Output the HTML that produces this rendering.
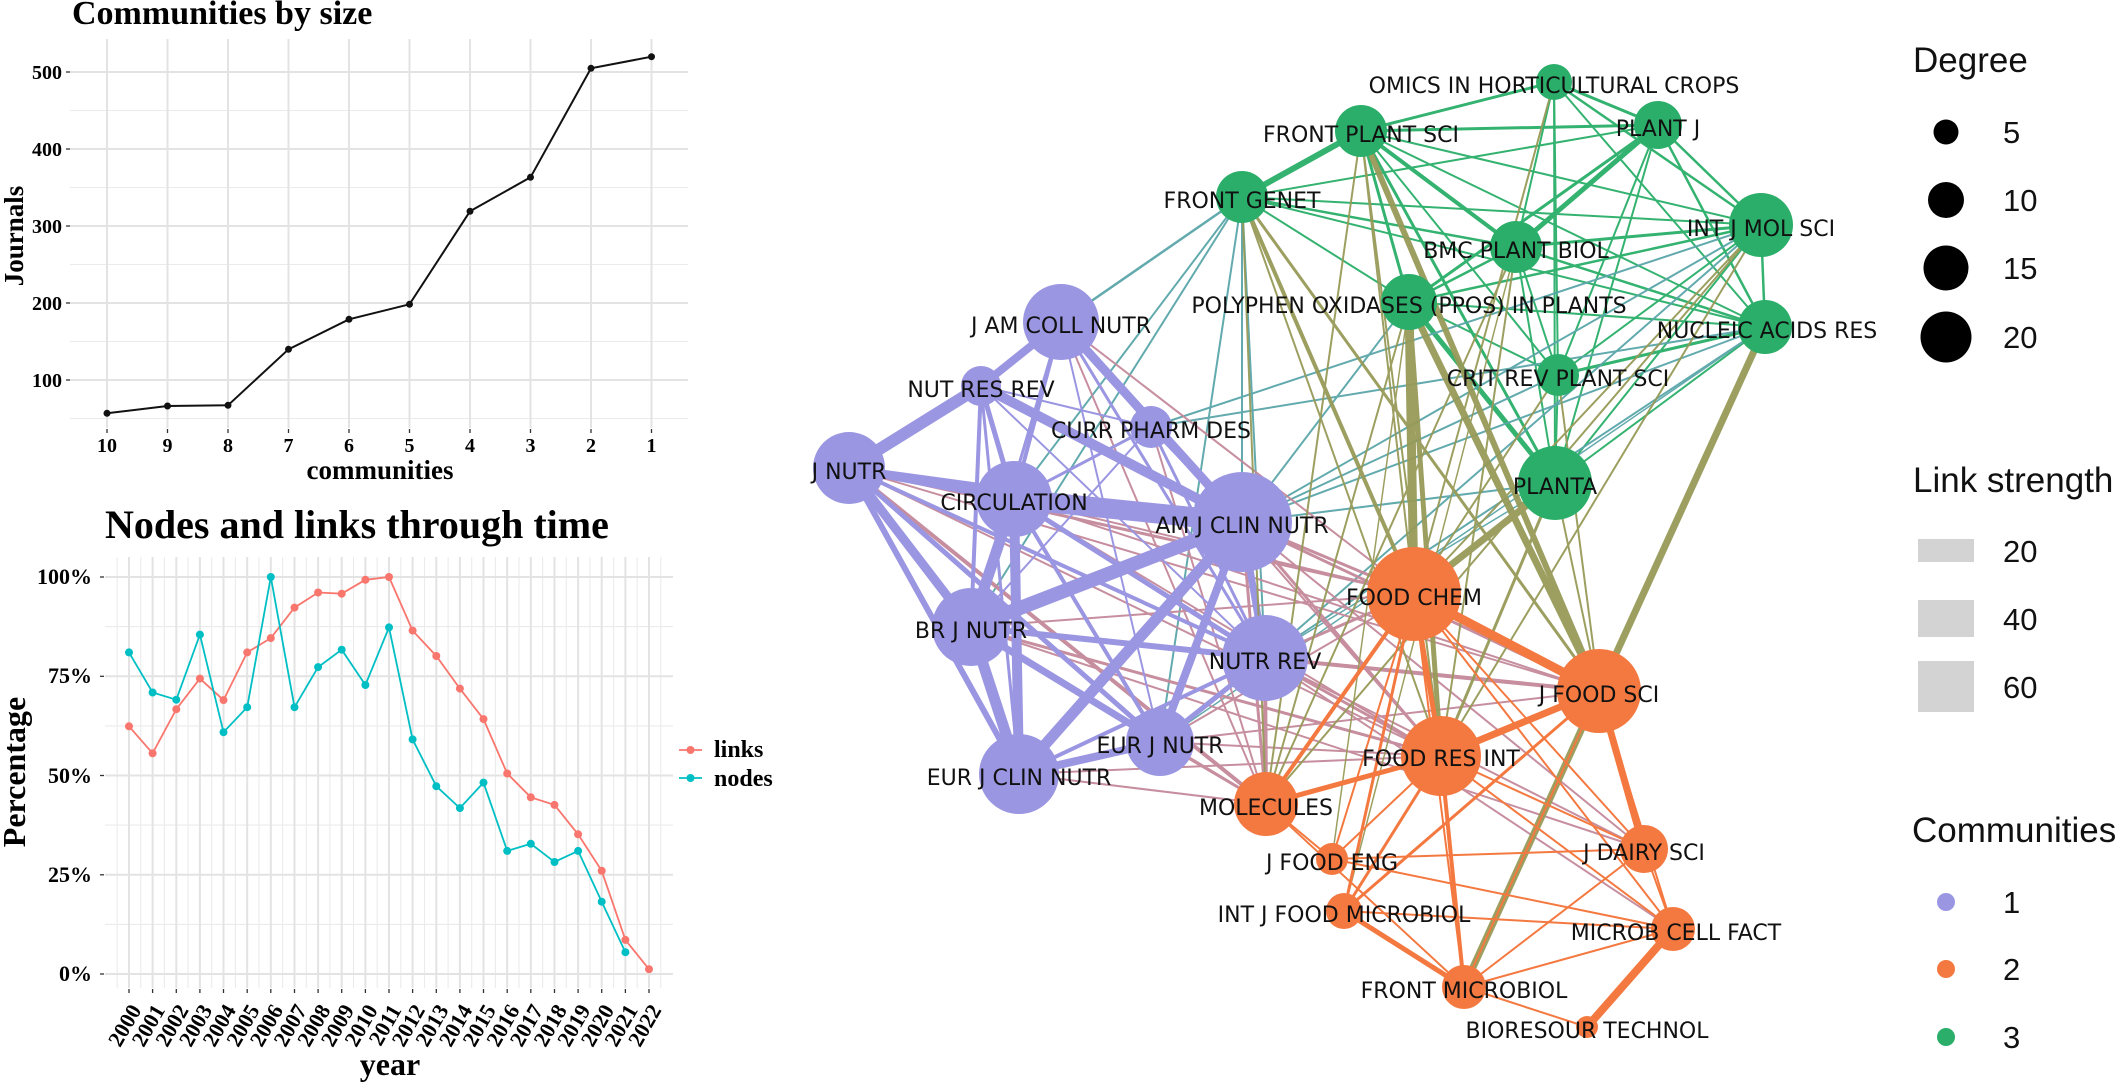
<!DOCTYPE html>
<html>
<head>
<meta charset="utf-8">
<style>
html,body{margin:0;padding:0;background:#fff;}
svg{display:block;}
.ser{font-family:"Liberation Serif","DejaVu Serif",serif;font-weight:bold;fill:#000;}
.lab{font-family:"DejaVu Sans","Liberation Sans",sans-serif;font-size:22px;fill:#111;text-anchor:middle;}
.leg{font-family:"Liberation Sans","DejaVu Sans",sans-serif;fill:#111;}
</style>
</head>
<body>
<svg width="2123" height="1084" viewBox="0 0 2123 1084" xmlns="http://www.w3.org/2000/svg">
<rect width="2123" height="1084" fill="#fff"/>

<!-- ================= Panel 1 ================= -->
<g stroke="#ebebeb" stroke-width="1.1">
  <line x1="70" y1="418.5" x2="688" y2="418.5"/>
  <line x1="70" y1="341.5" x2="688" y2="341.5"/>
  <line x1="70" y1="264.5" x2="688" y2="264.5"/>
  <line x1="70" y1="187.5" x2="688" y2="187.5"/>
  <line x1="70" y1="110.5" x2="688" y2="110.5"/>
</g>
<g stroke="#e3e3e3" stroke-width="2">
  <line x1="70" y1="380" x2="688" y2="380"/>
  <line x1="70" y1="303" x2="688" y2="303"/>
  <line x1="70" y1="226" x2="688" y2="226"/>
  <line x1="70" y1="149" x2="688" y2="149"/>
  <line x1="70" y1="72" x2="688" y2="72"/>
  <line x1="107" y1="39" x2="107" y2="428"/>
  <line x1="167.5" y1="39" x2="167.5" y2="428"/>
  <line x1="228" y1="39" x2="228" y2="428"/>
  <line x1="288.5" y1="39" x2="288.5" y2="428"/>
  <line x1="349" y1="39" x2="349" y2="428"/>
  <line x1="409.5" y1="39" x2="409.5" y2="428"/>
  <line x1="470" y1="39" x2="470" y2="428"/>
  <line x1="530.5" y1="39" x2="530.5" y2="428"/>
  <line x1="591" y1="39" x2="591" y2="428"/>
  <line x1="651.5" y1="39" x2="651.5" y2="428"/>
</g>
<g stroke="#333" stroke-width="1.3">
  <line x1="66" y1="380" x2="70" y2="380"/>
  <line x1="66" y1="303" x2="70" y2="303"/>
  <line x1="66" y1="226" x2="70" y2="226"/>
  <line x1="66" y1="149" x2="70" y2="149"/>
  <line x1="66" y1="72" x2="70" y2="72"/>
  <line x1="107" y1="429" x2="107" y2="433"/>
  <line x1="167.5" y1="429" x2="167.5" y2="433"/>
  <line x1="228" y1="429" x2="228" y2="433"/>
  <line x1="288.5" y1="429" x2="288.5" y2="433"/>
  <line x1="349" y1="429" x2="349" y2="433"/>
  <line x1="409.5" y1="429" x2="409.5" y2="433"/>
  <line x1="470" y1="429" x2="470" y2="433"/>
  <line x1="530.5" y1="429" x2="530.5" y2="433"/>
  <line x1="591" y1="429" x2="591" y2="433"/>
  <line x1="651.5" y1="429" x2="651.5" y2="433"/>
</g>
<polyline fill="none" stroke="#111" stroke-width="2" points="107,413.3 167.5,406 228,405.3 288.5,349.3 349,319.3 409.5,304.3 470,211.3 530.5,177.3 591,68.3 651.5,56.7"/>
<g fill="#111">
  <circle cx="107" cy="413.3" r="3.5"/><circle cx="167.5" cy="406" r="3.5"/><circle cx="228" cy="405.3" r="3.5"/>
  <circle cx="288.5" cy="349.3" r="3.5"/><circle cx="349" cy="319.3" r="3.5"/><circle cx="409.5" cy="304.3" r="3.5"/>
  <circle cx="470" cy="211.3" r="3.5"/><circle cx="530.5" cy="177.3" r="3.5"/><circle cx="591" cy="68.3" r="3.5"/>
  <circle cx="651.5" cy="56.7" r="3.5"/>
</g>
<text class="ser" x="72" y="24" font-size="34">Communities by size</text>
<g class="ser" font-size="20" text-anchor="end">
  <text x="62" y="387">100</text><text x="62" y="310">200</text><text x="62" y="233">300</text>
  <text x="62" y="156">400</text><text x="62" y="79">500</text>
</g>
<g class="ser" font-size="20" text-anchor="middle">
  <text x="107" y="452">10</text><text x="167.5" y="452">9</text><text x="228" y="452">8</text>
  <text x="288.5" y="452">7</text><text x="349" y="452">6</text><text x="409.5" y="452">5</text>
  <text x="470" y="452">4</text><text x="530.5" y="452">3</text><text x="591" y="452">2</text>
  <text x="651.5" y="452">1</text>
</g>
<text class="ser" x="380" y="479" font-size="27" text-anchor="middle">communities</text>
<text class="ser" font-size="27" text-anchor="middle" transform="translate(23,236) rotate(-90)">Journals</text>

<!-- ================= Panel 2 ================= -->
<g stroke="#ebebeb" stroke-width="1.1">
  <line x1="105" y1="924.4" x2="673" y2="924.4"/>
  <line x1="105" y1="825.1" x2="673" y2="825.1"/>
  <line x1="105" y1="725.9" x2="673" y2="725.9"/>
  <line x1="105" y1="626.6" x2="673" y2="626.6"/>
  <line x1="117.2" y1="557" x2="117.2" y2="988"/><line x1="140.8" y1="557" x2="140.8" y2="988"/>
  <line x1="164.4" y1="557" x2="164.4" y2="988"/><line x1="188.1" y1="557" x2="188.1" y2="988"/>
  <line x1="211.7" y1="557" x2="211.7" y2="988"/><line x1="235.4" y1="557" x2="235.4" y2="988"/>
  <line x1="259" y1="557" x2="259" y2="988"/><line x1="282.6" y1="557" x2="282.6" y2="988"/>
  <line x1="306.3" y1="557" x2="306.3" y2="988"/><line x1="329.9" y1="557" x2="329.9" y2="988"/>
  <line x1="353.5" y1="557" x2="353.5" y2="988"/><line x1="377.2" y1="557" x2="377.2" y2="988"/>
  <line x1="400.8" y1="557" x2="400.8" y2="988"/><line x1="424.5" y1="557" x2="424.5" y2="988"/>
  <line x1="448.1" y1="557" x2="448.1" y2="988"/><line x1="471.7" y1="557" x2="471.7" y2="988"/>
  <line x1="495.4" y1="557" x2="495.4" y2="988"/><line x1="519" y1="557" x2="519" y2="988"/>
  <line x1="542.6" y1="557" x2="542.6" y2="988"/><line x1="566.3" y1="557" x2="566.3" y2="988"/>
  <line x1="589.9" y1="557" x2="589.9" y2="988"/><line x1="613.6" y1="557" x2="613.6" y2="988"/>
  <line x1="637.2" y1="557" x2="637.2" y2="988"/><line x1="660.8" y1="557" x2="660.8" y2="988"/>
</g>
<g stroke="#e3e3e3" stroke-width="2">
  <line x1="105" y1="974" x2="673" y2="974"/>
  <line x1="105" y1="874.8" x2="673" y2="874.8"/>
  <line x1="105" y1="775.5" x2="673" y2="775.5"/>
  <line x1="105" y1="676.3" x2="673" y2="676.3"/>
  <line x1="105" y1="577" x2="673" y2="577"/>
  <line x1="129" y1="557" x2="129" y2="988"/><line x1="152.6" y1="557" x2="152.6" y2="988"/>
  <line x1="176.3" y1="557" x2="176.3" y2="988"/><line x1="199.9" y1="557" x2="199.9" y2="988"/>
  <line x1="223.5" y1="557" x2="223.5" y2="988"/><line x1="247.2" y1="557" x2="247.2" y2="988"/>
  <line x1="270.8" y1="557" x2="270.8" y2="988"/><line x1="294.5" y1="557" x2="294.5" y2="988"/>
  <line x1="318.1" y1="557" x2="318.1" y2="988"/><line x1="341.7" y1="557" x2="341.7" y2="988"/>
  <line x1="365.4" y1="557" x2="365.4" y2="988"/><line x1="389" y1="557" x2="389" y2="988"/>
  <line x1="412.6" y1="557" x2="412.6" y2="988"/><line x1="436.3" y1="557" x2="436.3" y2="988"/>
  <line x1="459.9" y1="557" x2="459.9" y2="988"/><line x1="483.5" y1="557" x2="483.5" y2="988"/>
  <line x1="507.2" y1="557" x2="507.2" y2="988"/><line x1="530.8" y1="557" x2="530.8" y2="988"/>
  <line x1="554.5" y1="557" x2="554.5" y2="988"/><line x1="578.1" y1="557" x2="578.1" y2="988"/>
  <line x1="601.7" y1="557" x2="601.7" y2="988"/><line x1="625.4" y1="557" x2="625.4" y2="988"/>
  <line x1="649" y1="557" x2="649" y2="988"/>
</g>
<g stroke="#333" stroke-width="1.3">
  <line x1="100" y1="974" x2="104" y2="974"/><line x1="100" y1="874.8" x2="104" y2="874.8"/>
  <line x1="100" y1="775.5" x2="104" y2="775.5"/><line x1="100" y1="676.3" x2="104" y2="676.3"/>
  <line x1="100" y1="577" x2="104" y2="577"/>
  <line x1="129" y1="989" x2="129" y2="993"/><line x1="152.6" y1="989" x2="152.6" y2="993"/>
  <line x1="176.3" y1="989" x2="176.3" y2="993"/><line x1="199.9" y1="989" x2="199.9" y2="993"/>
  <line x1="223.5" y1="989" x2="223.5" y2="993"/><line x1="247.2" y1="989" x2="247.2" y2="993"/>
  <line x1="270.8" y1="989" x2="270.8" y2="993"/><line x1="294.5" y1="989" x2="294.5" y2="993"/>
  <line x1="318.1" y1="989" x2="318.1" y2="993"/><line x1="341.7" y1="989" x2="341.7" y2="993"/>
  <line x1="365.4" y1="989" x2="365.4" y2="993"/><line x1="389" y1="989" x2="389" y2="993"/>
  <line x1="412.6" y1="989" x2="412.6" y2="993"/><line x1="436.3" y1="989" x2="436.3" y2="993"/>
  <line x1="459.9" y1="989" x2="459.9" y2="993"/><line x1="483.5" y1="989" x2="483.5" y2="993"/>
  <line x1="507.2" y1="989" x2="507.2" y2="993"/><line x1="530.8" y1="989" x2="530.8" y2="993"/>
  <line x1="554.5" y1="989" x2="554.5" y2="993"/><line x1="578.1" y1="989" x2="578.1" y2="993"/>
  <line x1="601.7" y1="989" x2="601.7" y2="993"/><line x1="625.4" y1="989" x2="625.4" y2="993"/>
  <line x1="649" y1="989" x2="649" y2="993"/>
</g>
<!-- links -->
<polyline fill="none" stroke="#F8766D" stroke-width="1.8" points="129,726.3 152.6,753.3 176.3,709.2 199.9,678.6 223.5,700.1 247.2,652.4 270.8,638.1 294.5,607.6 318.1,592.5 341.7,593.7 365.4,579.8 389,577 412.6,630.6 436.3,656 459.9,688.6 483.5,719.1 507.2,773.5 530.8,797.3 554.5,804.9 578.1,834.3 601.7,870.8 625.4,939.9 649,969.2"/>
<g fill="#F8766D">
  <circle cx="129" cy="726.3" r="4"/><circle cx="152.6" cy="753.3" r="4"/><circle cx="176.3" cy="709.2" r="4"/>
  <circle cx="199.9" cy="678.6" r="4"/><circle cx="223.5" cy="700.1" r="4"/><circle cx="247.2" cy="652.4" r="4"/>
  <circle cx="270.8" cy="638.1" r="4"/><circle cx="294.5" cy="607.6" r="4"/><circle cx="318.1" cy="592.5" r="4"/>
  <circle cx="341.7" cy="593.7" r="4"/><circle cx="365.4" cy="579.8" r="4"/><circle cx="389" cy="577" r="4"/>
  <circle cx="412.6" cy="630.6" r="4"/><circle cx="436.3" cy="656" r="4"/><circle cx="459.9" cy="688.6" r="4"/>
  <circle cx="483.5" cy="719.1" r="4"/><circle cx="507.2" cy="773.5" r="4"/><circle cx="530.8" cy="797.3" r="4"/>
  <circle cx="554.5" cy="804.9" r="4"/><circle cx="578.1" cy="834.3" r="4"/><circle cx="601.7" cy="870.8" r="4"/>
  <circle cx="625.4" cy="939.9" r="4"/><circle cx="649" cy="969.2" r="4"/>
</g>
<!-- nodes -->
<polyline fill="none" stroke="#00BFC4" stroke-width="1.8" points="129,652.4 152.6,692.5 176.3,699.7 199.9,634.6 223.5,732.2 247.2,707.2 270.8,577 294.5,707.2 318.1,667.1 341.7,649.7 365.4,685 389,627.4 412.6,739.4 436.3,786.2 459.9,808.1 483.5,782.6 507.2,850.9 530.8,843.8 554.5,862 578.1,850.9 601.7,901.7 625.4,952.2"/>
<g fill="#00BFC4">
  <circle cx="129" cy="652.4" r="4"/><circle cx="152.6" cy="692.5" r="4"/><circle cx="176.3" cy="699.7" r="4"/>
  <circle cx="199.9" cy="634.6" r="4"/><circle cx="223.5" cy="732.2" r="4"/><circle cx="247.2" cy="707.2" r="4"/>
  <circle cx="270.8" cy="577" r="4"/><circle cx="294.5" cy="707.2" r="4"/><circle cx="318.1" cy="667.1" r="4"/>
  <circle cx="341.7" cy="649.7" r="4"/><circle cx="365.4" cy="685" r="4"/><circle cx="389" cy="627.4" r="4"/>
  <circle cx="412.6" cy="739.4" r="4"/><circle cx="436.3" cy="786.2" r="4"/><circle cx="459.9" cy="808.1" r="4"/>
  <circle cx="483.5" cy="782.6" r="4"/><circle cx="507.2" cy="850.9" r="4"/><circle cx="530.8" cy="843.8" r="4"/>
  <circle cx="554.5" cy="862" r="4"/><circle cx="578.1" cy="850.9" r="4"/><circle cx="601.7" cy="901.7" r="4"/>
  <circle cx="625.4" cy="952.2" r="4"/>
</g>
<text class="ser" x="105" y="538" font-size="40">Nodes and links through time</text>
<g class="ser" font-size="22" text-anchor="end">
  <text x="92" y="584">100%</text><text x="92" y="683">75%</text><text x="92" y="783">50%</text>
  <text x="92" y="882">25%</text><text x="92" y="981">0%</text>
</g>
<g class="ser" font-size="22" text-anchor="end">
  <text transform="translate(142,1010) rotate(-60)">2000</text>
  <text transform="translate(165.6,1010) rotate(-60)">2001</text>
  <text transform="translate(189.3,1010) rotate(-60)">2002</text>
  <text transform="translate(212.9,1010) rotate(-60)">2003</text>
  <text transform="translate(236.5,1010) rotate(-60)">2004</text>
  <text transform="translate(260.2,1010) rotate(-60)">2005</text>
  <text transform="translate(283.8,1010) rotate(-60)">2006</text>
  <text transform="translate(307.5,1010) rotate(-60)">2007</text>
  <text transform="translate(331.1,1010) rotate(-60)">2008</text>
  <text transform="translate(354.7,1010) rotate(-60)">2009</text>
  <text transform="translate(378.4,1010) rotate(-60)">2010</text>
  <text transform="translate(402,1010) rotate(-60)">2011</text>
  <text transform="translate(425.6,1010) rotate(-60)">2012</text>
  <text transform="translate(449.3,1010) rotate(-60)">2013</text>
  <text transform="translate(472.9,1010) rotate(-60)">2014</text>
  <text transform="translate(496.5,1010) rotate(-60)">2015</text>
  <text transform="translate(520.2,1010) rotate(-60)">2016</text>
  <text transform="translate(543.8,1010) rotate(-60)">2017</text>
  <text transform="translate(567.5,1010) rotate(-60)">2018</text>
  <text transform="translate(591.1,1010) rotate(-60)">2019</text>
  <text transform="translate(614.7,1010) rotate(-60)">2020</text>
  <text transform="translate(638.4,1010) rotate(-60)">2021</text>
  <text transform="translate(662,1010) rotate(-60)">2022</text>
</g>
<text class="ser" x="390" y="1075" font-size="32" text-anchor="middle">year</text>
<text class="ser" font-size="32" text-anchor="middle" transform="translate(25,772) rotate(-90)">Percentage</text>
<!-- legend panel 2 -->
<line x1="679" y1="750" x2="702" y2="750" stroke="#F8766D" stroke-width="1.8"/>
<circle cx="690.5" cy="750" r="4" fill="#F8766D"/>
<line x1="679" y1="778" x2="702" y2="778" stroke="#00BFC4" stroke-width="1.8"/>
<circle cx="690.5" cy="778" r="4" fill="#00BFC4"/>
<text class="ser" x="714" y="757" font-size="24">links</text>
<text class="ser" x="714" y="786" font-size="24">nodes</text>

<!-- ================= Network ================= -->
<g fill="none" stroke-linecap="round">
<!-- green-green -->
<g stroke="#2aae69" opacity="0.95">
  <line x1="1361" y1="131" x2="1242" y2="197" stroke-width="6"/>
  <line x1="1361" y1="131" x2="1658" y2="125" stroke-width="3"/>
  <line x1="1242" y1="197" x2="1658" y2="125" stroke-width="2"/>
  <line x1="1361" y1="131" x2="1554" y2="82" stroke-width="3"/>
  <line x1="1361" y1="131" x2="1516" y2="247" stroke-width="4"/>
  <line x1="1361" y1="131" x2="1761" y2="225" stroke-width="2"/>
  <line x1="1361" y1="131" x2="1409" y2="302" stroke-width="3"/>
  <line x1="1361" y1="131" x2="1555" y2="483" stroke-width="3"/>
  <line x1="1361" y1="131" x2="1765" y2="327" stroke-width="2"/>
  <line x1="1361" y1="131" x2="1558" y2="375" stroke-width="2"/>
  <line x1="1242" y1="197" x2="1516" y2="247" stroke-width="2.5"/>
  <line x1="1242" y1="197" x2="1409" y2="302" stroke-width="2"/>
  <line x1="1242" y1="197" x2="1761" y2="225" stroke-width="2"/>
  <line x1="1242" y1="197" x2="1765" y2="327" stroke-width="2"/>
  <line x1="1554" y1="82" x2="1658" y2="125" stroke-width="3"/>
  <line x1="1554" y1="82" x2="1761" y2="225" stroke-width="2.5"/>
  <line x1="1554" y1="82" x2="1765" y2="327" stroke-width="2"/>
  <line x1="1554" y1="82" x2="1558" y2="375" stroke-width="2"/>
  <line x1="1554" y1="82" x2="1555" y2="483" stroke-width="2"/>
  <line x1="1554" y1="82" x2="1516" y2="247" stroke-width="2"/>
  <line x1="1658" y1="125" x2="1516" y2="247" stroke-width="5"/>
  <line x1="1658" y1="125" x2="1409" y2="302" stroke-width="3"/>
  <line x1="1658" y1="125" x2="1761" y2="225" stroke-width="2.5"/>
  <line x1="1658" y1="125" x2="1765" y2="327" stroke-width="2.5"/>
  <line x1="1658" y1="125" x2="1555" y2="483" stroke-width="2"/>
  <line x1="1658" y1="125" x2="1558" y2="375" stroke-width="2"/>
  <line x1="1516" y1="247" x2="1761" y2="225" stroke-width="3"/>
  <line x1="1516" y1="247" x2="1765" y2="327" stroke-width="2.5"/>
  <line x1="1516" y1="247" x2="1409" y2="302" stroke-width="2.5"/>
  <line x1="1516" y1="247" x2="1555" y2="483" stroke-width="2"/>
  <line x1="1516" y1="247" x2="1558" y2="375" stroke-width="2"/>
  <line x1="1409" y1="302" x2="1761" y2="225" stroke-width="2.5"/>
  <line x1="1409" y1="302" x2="1765" y2="327" stroke-width="2"/>
  <line x1="1409" y1="302" x2="1555" y2="483" stroke-width="5"/>
  <line x1="1409" y1="302" x2="1558" y2="375" stroke-width="2"/>
  <line x1="1761" y1="225" x2="1765" y2="327" stroke-width="2.5"/>
  <line x1="1761" y1="225" x2="1555" y2="483" stroke-width="2"/>
  <line x1="1761" y1="225" x2="1558" y2="375" stroke-width="2"/>
  <line x1="1765" y1="327" x2="1558" y2="375" stroke-width="3"/>
  <line x1="1765" y1="327" x2="1555" y2="483" stroke-width="2"/>
  <line x1="1558" y1="375" x2="1555" y2="483" stroke-width="2"/>
</g>
<!-- purple-green teal -->
<g stroke="#5aa6a9" opacity="0.95">
  <line x1="1061" y1="322" x2="1242" y2="197" stroke-width="2.5"/>
  <line x1="1242" y1="197" x2="1014" y2="499" stroke-width="2"/>
  <line x1="1242" y1="197" x2="971" y2="627" stroke-width="2"/>
  <line x1="1242" y1="197" x2="1242" y2="522" stroke-width="2"/>
  <line x1="1242" y1="197" x2="1265" y2="658" stroke-width="2"/>
  <line x1="1242" y1="197" x2="1160" y2="742" stroke-width="2"/>
  <line x1="1151" y1="427" x2="1765" y2="327" stroke-width="2"/>
  <line x1="1151" y1="427" x2="1761" y2="225" stroke-width="2"/>
  <line x1="1242" y1="522" x2="1761" y2="225" stroke-width="2"/>
  <line x1="1242" y1="522" x2="1765" y2="327" stroke-width="2"/>
  <line x1="1242" y1="522" x2="1558" y2="375" stroke-width="2"/>
  <line x1="1242" y1="522" x2="1409" y2="302" stroke-width="2"/>
  <line x1="1242" y1="522" x2="1555" y2="483" stroke-width="2"/>
  <line x1="1265" y1="658" x2="1761" y2="225" stroke-width="2"/>
  <line x1="1265" y1="658" x2="1765" y2="327" stroke-width="2"/>
  <line x1="1265" y1="658" x2="1555" y2="483" stroke-width="1.5"/>
  <line x1="1160" y1="742" x2="1765" y2="327" stroke-width="1.5"/>
</g>
<!-- purple-orange pink -->
<g stroke="#c4899a" opacity="0.95">
  <line x1="849" y1="468" x2="1414" y2="594" stroke-width="3"/>
  <line x1="849" y1="468" x2="1266" y2="804" stroke-width="4"/>
  <line x1="849" y1="468" x2="1441" y2="756" stroke-width="2"/>
  <line x1="849" y1="468" x2="1599" y2="691" stroke-width="2"/>
  <line x1="1061" y1="322" x2="1414" y2="594" stroke-width="2"/>
  <line x1="1061" y1="322" x2="1441" y2="756" stroke-width="2"/>
  <line x1="1061" y1="322" x2="1266" y2="804" stroke-width="2"/>
  <line x1="1151" y1="427" x2="1266" y2="804" stroke-width="2"/>
  <line x1="1242" y1="522" x2="1414" y2="594" stroke-width="3"/>
  <line x1="1242" y1="522" x2="1599" y2="691" stroke-width="3"/>
  <line x1="1242" y1="522" x2="1441" y2="756" stroke-width="3"/>
  <line x1="1242" y1="522" x2="1266" y2="804" stroke-width="3"/>
  <line x1="1242" y1="522" x2="1644" y2="849" stroke-width="2"/>
  <line x1="1265" y1="658" x2="1414" y2="594" stroke-width="3"/>
  <line x1="1265" y1="658" x2="1599" y2="691" stroke-width="4"/>
  <line x1="1265" y1="658" x2="1441" y2="756" stroke-width="3"/>
  <line x1="1265" y1="658" x2="1266" y2="804" stroke-width="4"/>
  <line x1="1265" y1="658" x2="1644" y2="849" stroke-width="2"/>
  <line x1="1265" y1="658" x2="1673" y2="929" stroke-width="2"/>
  <line x1="971" y1="627" x2="1414" y2="594" stroke-width="2"/>
  <line x1="971" y1="627" x2="1441" y2="756" stroke-width="3"/>
  <line x1="971" y1="627" x2="1266" y2="804" stroke-width="3"/>
  <line x1="971" y1="627" x2="1644" y2="849" stroke-width="2"/>
  <line x1="971" y1="627" x2="1599" y2="691" stroke-width="2"/>
  <line x1="1014" y1="499" x2="1414" y2="594" stroke-width="2"/>
  <line x1="1014" y1="499" x2="1441" y2="756" stroke-width="2"/>
  <line x1="1014" y1="499" x2="1599" y2="691" stroke-width="2"/>
  <line x1="1160" y1="742" x2="1441" y2="756" stroke-width="2"/>
  <line x1="1160" y1="742" x2="1266" y2="804" stroke-width="2"/>
  <line x1="1160" y1="742" x2="1599" y2="691" stroke-width="2"/>
  <line x1="1160" y1="742" x2="1414" y2="594" stroke-width="2"/>
  <line x1="1019" y1="774" x2="1266" y2="804" stroke-width="2"/>
  <line x1="1019" y1="774" x2="1441" y2="756" stroke-width="2"/>
</g>
<!-- purple-purple -->
<g stroke="#9b96e2">
  <line x1="1014" y1="499" x2="1242" y2="522" stroke-width="20"/>
  <line x1="1242" y1="522" x2="971" y2="627" stroke-width="14"/>
  <line x1="849" y1="468" x2="981" y2="386" stroke-width="12"/>
  <line x1="1014" y1="499" x2="971" y2="627" stroke-width="11"/>
  <line x1="1242" y1="522" x2="1019" y2="774" stroke-width="11"/>
  <line x1="971" y1="627" x2="1019" y2="774" stroke-width="11"/>
  <line x1="1014" y1="499" x2="1019" y2="774" stroke-width="10"/>
  <line x1="981" y1="386" x2="1242" y2="522" stroke-width="10"/>
  <line x1="849" y1="468" x2="971" y2="627" stroke-width="9"/>
  <line x1="1061" y1="322" x2="1242" y2="522" stroke-width="9"/>
  <line x1="849" y1="468" x2="1014" y2="499" stroke-width="8"/>
  <line x1="1061" y1="322" x2="981" y2="386" stroke-width="8"/>
  <line x1="1242" y1="522" x2="1160" y2="742" stroke-width="8"/>
  <line x1="1160" y1="742" x2="1019" y2="774" stroke-width="8"/>
  <line x1="1242" y1="522" x2="1265" y2="658" stroke-width="7"/>
  <line x1="971" y1="627" x2="1160" y2="742" stroke-width="7"/>
  <line x1="849" y1="468" x2="1242" y2="522" stroke-width="6"/>
  <line x1="849" y1="468" x2="1019" y2="774" stroke-width="6"/>
  <line x1="971" y1="627" x2="1265" y2="658" stroke-width="6"/>
  <line x1="849" y1="468" x2="1160" y2="742" stroke-width="5"/>
  <line x1="981" y1="386" x2="1014" y2="499" stroke-width="5"/>
  <line x1="1014" y1="499" x2="1265" y2="658" stroke-width="5"/>
  <line x1="1265" y1="658" x2="1160" y2="742" stroke-width="5"/>
  <line x1="849" y1="468" x2="1265" y2="658" stroke-width="4"/>
  <line x1="1061" y1="322" x2="1014" y2="499" stroke-width="4"/>
  <line x1="981" y1="386" x2="971" y2="627" stroke-width="4"/>
  <line x1="1151" y1="427" x2="1242" y2="522" stroke-width="4"/>
  <line x1="1014" y1="499" x2="1160" y2="742" stroke-width="4"/>
  <line x1="1265" y1="658" x2="1019" y2="774" stroke-width="4"/>
  <line x1="1061" y1="322" x2="971" y2="627" stroke-width="3"/>
  <line x1="1061" y1="322" x2="1265" y2="658" stroke-width="3"/>
  <line x1="1061" y1="322" x2="1151" y2="427" stroke-width="3"/>
  <line x1="981" y1="386" x2="1019" y2="774" stroke-width="3"/>
  <line x1="1151" y1="427" x2="1014" y2="499" stroke-width="3"/>
  <line x1="1151" y1="427" x2="1265" y2="658" stroke-width="3"/>
  <line x1="1061" y1="322" x2="1160" y2="742" stroke-width="2"/>
  <line x1="981" y1="386" x2="1151" y2="427" stroke-width="2"/>
  <line x1="981" y1="386" x2="1265" y2="658" stroke-width="2"/>
  <line x1="1151" y1="427" x2="971" y2="627" stroke-width="2"/>
</g>
<!-- green-orange olive -->
<g stroke="#979a58" opacity="0.95">
  <line x1="1409" y1="302" x2="1414" y2="594" stroke-width="9"/>
  <line x1="1409" y1="302" x2="1599" y2="691" stroke-width="7"/>
  <line x1="1409" y1="302" x2="1441" y2="756" stroke-width="5"/>
  <line x1="1409" y1="302" x2="1266" y2="804" stroke-width="2"/>
  <line x1="1409" y1="302" x2="1332" y2="859" stroke-width="1.5"/>
  <line x1="1361" y1="131" x2="1599" y2="691" stroke-width="6"/>
  <line x1="1361" y1="131" x2="1414" y2="594" stroke-width="2"/>
  <line x1="1361" y1="131" x2="1266" y2="804" stroke-width="2"/>
  <line x1="1361" y1="131" x2="1441" y2="756" stroke-width="2"/>
  <line x1="1242" y1="197" x2="1414" y2="594" stroke-width="4"/>
  <line x1="1242" y1="197" x2="1599" y2="691" stroke-width="3"/>
  <line x1="1242" y1="197" x2="1266" y2="804" stroke-width="2"/>
  <line x1="1242" y1="197" x2="1441" y2="756" stroke-width="2"/>
  <line x1="1555" y1="483" x2="1414" y2="594" stroke-width="7"/>
  <line x1="1555" y1="483" x2="1441" y2="756" stroke-width="3"/>
  <line x1="1555" y1="483" x2="1599" y2="691" stroke-width="2"/>
  <line x1="1765" y1="327" x2="1464" y2="987" stroke-width="7"/>
  <line x1="1761" y1="225" x2="1414" y2="594" stroke-width="2"/>
  <line x1="1761" y1="225" x2="1441" y2="756" stroke-width="2"/>
  <line x1="1761" y1="225" x2="1266" y2="804" stroke-width="2"/>
  <line x1="1554" y1="82" x2="1414" y2="594" stroke-width="2"/>
  <line x1="1516" y1="247" x2="1441" y2="756" stroke-width="2"/>
  <line x1="1516" y1="247" x2="1266" y2="804" stroke-width="2"/>
  <line x1="1516" y1="247" x2="1344" y2="911" stroke-width="1.5"/>
  <line x1="1558" y1="375" x2="1599" y2="691" stroke-width="2"/>
  <line x1="1558" y1="375" x2="1414" y2="594" stroke-width="2"/>
</g>
<!-- orange-orange -->
<g stroke="#f47940">
  <line x1="1414" y1="594" x2="1599" y2="691" stroke-width="9"/>
  <line x1="1414" y1="594" x2="1441" y2="756" stroke-width="5"/>
  <line x1="1414" y1="594" x2="1266" y2="804" stroke-width="4"/>
  <line x1="1414" y1="594" x2="1344" y2="911" stroke-width="3"/>
  <line x1="1414" y1="594" x2="1644" y2="849" stroke-width="2"/>
  <line x1="1414" y1="594" x2="1673" y2="929" stroke-width="2"/>
  <line x1="1414" y1="594" x2="1332" y2="859" stroke-width="2"/>
  <line x1="1414" y1="594" x2="1464" y2="987" stroke-width="2"/>
  <line x1="1599" y1="691" x2="1441" y2="756" stroke-width="7"/>
  <line x1="1599" y1="691" x2="1644" y2="849" stroke-width="7"/>
  <line x1="1599" y1="691" x2="1344" y2="911" stroke-width="3"/>
  <line x1="1599" y1="691" x2="1464" y2="987" stroke-width="2"/>
  <line x1="1599" y1="691" x2="1673" y2="929" stroke-width="2"/>
  <line x1="1441" y1="756" x2="1266" y2="804" stroke-width="5"/>
  <line x1="1441" y1="756" x2="1464" y2="987" stroke-width="4"/>
  <line x1="1441" y1="756" x2="1344" y2="911" stroke-width="3"/>
  <line x1="1441" y1="756" x2="1332" y2="859" stroke-width="2"/>
  <line x1="1441" y1="756" x2="1644" y2="849" stroke-width="2"/>
  <line x1="1441" y1="756" x2="1673" y2="929" stroke-width="2"/>
  <line x1="1266" y1="804" x2="1332" y2="859" stroke-width="2"/>
  <line x1="1266" y1="804" x2="1464" y2="987" stroke-width="2"/>
  <line x1="1332" y1="859" x2="1644" y2="849" stroke-width="2"/>
  <line x1="1332" y1="859" x2="1673" y2="929" stroke-width="2"/>
  <line x1="1344" y1="911" x2="1673" y2="929" stroke-width="2"/>
  <line x1="1344" y1="911" x2="1464" y2="987" stroke-width="5"/>
  <line x1="1464" y1="987" x2="1673" y2="929" stroke-width="2"/>
  <line x1="1464" y1="987" x2="1587" y2="1027" stroke-width="2"/>
  <line x1="1673" y1="929" x2="1587" y2="1027" stroke-width="8"/>
  <line x1="1644" y1="849" x2="1673" y2="929" stroke-width="2"/>
  <line x1="1644" y1="849" x2="1464" y2="987" stroke-width="2"/>
</g>
</g>

<!-- nodes -->
<g fill="#9b96e2">
  <circle cx="1061" cy="322" r="38"/><circle cx="981" cy="386" r="20"/><circle cx="1151" cy="427" r="21"/>
  <circle cx="849" cy="468" r="36"/><circle cx="1014" cy="499" r="38"/><circle cx="1242" cy="522" r="50"/>
  <circle cx="971" cy="627" r="39"/><circle cx="1265" cy="658" r="43"/><circle cx="1160" cy="742" r="34"/>
  <circle cx="1019" cy="774" r="40"/>
</g>
<g fill="#f47940">
  <circle cx="1414" cy="594" r="47"/><circle cx="1599" cy="691" r="42"/><circle cx="1441" cy="756" r="40"/>
  <circle cx="1266" cy="804" r="32"/><circle cx="1332" cy="859" r="16"/><circle cx="1644" cy="849" r="24"/>
  <circle cx="1344" cy="911" r="18"/><circle cx="1673" cy="929" r="22"/><circle cx="1464" cy="987" r="22"/>
  <circle cx="1587" cy="1027" r="11"/>
</g>
<g fill="#2aae69">
  <circle cx="1554" cy="82" r="18"/><circle cx="1361" cy="131" r="26"/><circle cx="1658" cy="125" r="24"/>
  <circle cx="1242" cy="197" r="26"/><circle cx="1761" cy="225" r="32"/><circle cx="1516" cy="247" r="26"/>
  <circle cx="1409" cy="302" r="28"/><circle cx="1765" cy="327" r="27"/><circle cx="1558" cy="375" r="21"/>
  <circle cx="1555" cy="483" r="37"/>
</g>

<!-- labels -->
<g class="lab">
  <text x="1061" y="333">J AM COLL NUTR</text>
  <text x="981" y="397">NUT RES REV</text>
  <text x="1151" y="438">CURR PHARM DES</text>
  <text x="849" y="479">J NUTR</text>
  <text x="1014" y="510">CIRCULATION</text>
  <text x="1242" y="533">AM J CLIN NUTR</text>
  <text x="971" y="638">BR J NUTR</text>
  <text x="1265" y="669">NUTR REV</text>
  <text x="1160" y="753">EUR J NUTR</text>
  <text x="1019" y="785">EUR J CLIN NUTR</text>

  <text x="1414" y="605">FOOD CHEM</text>
  <text x="1599" y="702">J FOOD SCI</text>
  <text x="1441" y="766">FOOD RES INT</text>
  <text x="1266" y="815">MOLECULES</text>
  <text x="1332" y="870">J FOOD ENG</text>
  <text x="1644" y="860">J DAIRY SCI</text>
  <text x="1344" y="922">INT J FOOD MICROBIOL</text>
  <text x="1676" y="940">MICROB CELL FACT</text>
  <text x="1464" y="998">FRONT MICROBIOL</text>
  <text x="1587" y="1038">BIORESOUR TECHNOL</text>

  <text x="1554" y="93">OMICS IN HORTICULTURAL CROPS</text>
  <text x="1361" y="142">FRONT PLANT SCI</text>
  <text x="1658" y="136">PLANT J</text>
  <text x="1242" y="208">FRONT GENET</text>
  <text x="1761" y="236">INT J MOL SCI</text>
  <text x="1516" y="258">BMC PLANT BIOL</text>
  <text x="1409" y="313">POLYPHEN OXIDASES (PPOS) IN PLANTS</text>
  <text x="1767" y="338">NUCLEIC ACIDS RES</text>
  <text x="1558" y="386">CRIT REV PLANT SCI</text>
  <text x="1555" y="494">PLANTA</text>
</g>

<!-- ================= Network legend ================= -->
<text class="leg" x="1913" y="72" font-size="35">Degree</text>
<g fill="#000">
  <circle cx="1946" cy="132" r="12.5"/><circle cx="1946" cy="200" r="18"/>
  <circle cx="1946" cy="268" r="22.5"/><circle cx="1946" cy="337" r="25.5"/>
</g>
<g class="leg" font-size="31">
  <text x="2003" y="143">5</text><text x="2003" y="211">10</text>
  <text x="2003" y="279">15</text><text x="2003" y="348">20</text>
</g>
<text class="leg" x="1913" y="492" font-size="35">Link strength</text>
<g fill="#d3d3d3">
  <rect x="1918" y="539" width="56" height="23"/>
  <rect x="1918" y="600" width="56" height="37"/>
  <rect x="1918" y="661" width="56" height="51"/>
</g>
<g class="leg" font-size="31">
  <text x="2003" y="562">20</text><text x="2003" y="630">40</text><text x="2003" y="698">60</text>
</g>
<text class="leg" x="1912" y="842" font-size="35">Communities</text>
<circle cx="1946" cy="902" r="9" fill="#9b96e2"/>
<circle cx="1946" cy="969" r="9" fill="#f47940"/>
<circle cx="1946" cy="1037" r="9" fill="#2aae69"/>
<g class="leg" font-size="31">
  <text x="2003" y="913">1</text><text x="2003" y="980">2</text><text x="2003" y="1048">3</text>
</g>
</svg>
</body>
</html>
